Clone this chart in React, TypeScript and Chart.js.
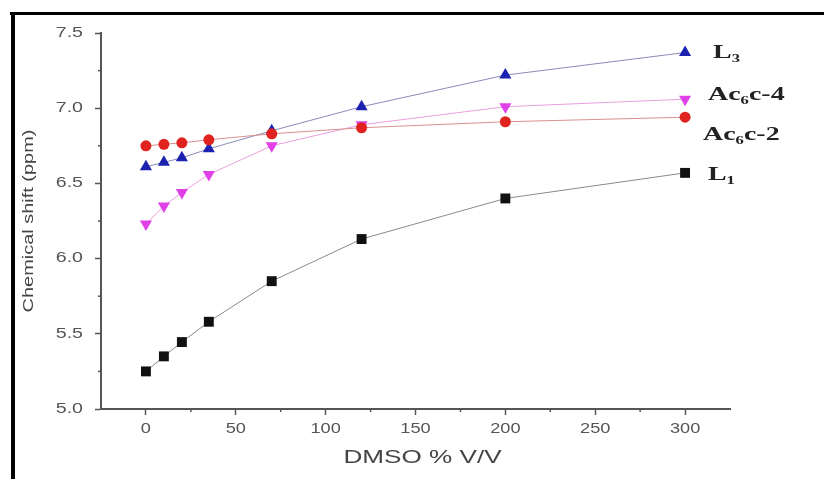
import React, { useEffect, useRef } from 'react';
import { Chart, registerables } from 'chart.js';

Chart.register(...registerables);

const dmso = [0, 10, 20, 35, 70, 120, 200, 300];
const l1 = [5.25, 5.35, 5.445, 5.58, 5.85, 6.13, 6.4, 6.57];
const ac6c2 = [6.75, 6.76, 6.77, 6.79, 6.83, 6.87, 6.91, 6.94];
const l3 = [6.61, 6.64, 6.67, 6.73, 6.85, 7.01, 7.22, 7.37];
const ac6c4 = [6.23, 6.35, 6.44, 6.56, 6.75, 6.89, 7.01, 7.06];
const seriesLabels = ['L₁', 'Ac₆c-2', 'L₃', 'Ac₆c-4'];
const xTicks = [0, 50, 100, 150, 200, 250, 300];
const xMinorTicks = [25, 75, 125, 175, 225, 275];
const yTicks = [5.0, 5.5, 6.0, 6.5, 7.0, 7.5];
const yMinorTicks = [5.25, 5.75, 6.25, 6.75, 7.25];
const xTitle = 'DMSO % V/V';
const yTitle = 'Chemical shift (ppm)';

const sans = "'Liberation Sans', Arial, sans-serif";
const serif = "'Liberation Serif', 'DejaVu Serif', serif";

const labelOffsets = [
  { dx: 23, dy: 1 },
  { dx: 18, dy: 17 },
  { dx: 28, dy: -1 },
  { dx: 23, dy: -5 },
];

function stretchText(ctx: any, text: string, x: number, y: number, sx: number, rot = 0) {
  ctx.save();
  ctx.translate(x, y);
  if (rot) ctx.rotate(rot);
  ctx.scale(sx, 1);
  ctx.fillText(text, 0, 0);
  ctx.restore();
}

const extrasPlugin = {
  id: 'extras',
  afterDraw(chart: any) {
    const ctx = chart.ctx;
    const xs = chart.scales.x;
    const ys = chart.scales.y;
    ctx.save();
    // frame lines of the scanned figure
    ctx.fillStyle = '#000';
    ctx.fillRect(10, 12, 814, 3);
    ctx.fillRect(11, 12, 4, 467);
    // minor ticks
    ctx.strokeStyle = '#555';
    ctx.lineWidth = 1.5;
    const yb = ys.bottom;
    xMinorTicks.forEach((v) => {
      const px = xs.getPixelForValue(v);
      ctx.beginPath();
      ctx.moveTo(px, yb);
      ctx.lineTo(px, yb + 3);
      ctx.stroke();
    });
    const xl = xs.left;
    yMinorTicks.forEach((v) => {
      const py = ys.getPixelForValue(v);
      ctx.beginPath();
      ctx.moveTo(xl, py);
      ctx.lineTo(xl - 3, py);
      ctx.stroke();
    });
    // tick labels (widened like the scanned figure)
    ctx.fillStyle = '#555';
    ctx.font = `14px ${sans}`;
    ctx.textBaseline = 'middle';
    ctx.textAlign = 'center';
    xs.ticks.forEach((t: any) => {
      stretchText(ctx, String(t.value), xs.getPixelForValue(t.value), yb + 20, 1.3);
    });
    ctx.textAlign = 'right';
    ys.ticks.forEach((t: any) => {
      stretchText(ctx, Number(t.value).toFixed(1), xl - 18, ys.getPixelForValue(t.value), 1.4);
    });
    // axis titles
    ctx.fillStyle = '#444';
    ctx.textAlign = 'center';
    ctx.font = `18px ${sans}`;
    stretchText(ctx, xTitle, (xs.left + xs.right) / 2 + 7, 458, 1.45);
    ctx.font = `15px ${sans}`;
    stretchText(ctx, yTitle, 29, (ys.top + ys.bottom) / 2, 1.33, -Math.PI / 2);
    // series labels next to the last points
    ctx.fillStyle = '#222';
    ctx.font = `bold 18px ${serif}`;
    ctx.textAlign = 'left';
    ctx.textBaseline = 'alphabetic';
    chart.data.datasets.forEach((ds: any, i: number) => {
      const last = ds.data[ds.data.length - 1];
      const px = xs.getPixelForValue(last.x);
      const py = ys.getPixelForValue(last.y);
      stretchText(ctx, seriesLabels[i], px + labelOffsets[i].dx, py + labelOffsets[i].dy + 6, 1.55);
    });
    ctx.restore();
  },
};

function pts(ys: number[]) {
  return dmso.map((x, i) => ({ x, y: ys[i] }));
}

export default function App() {
  const ref = useRef<HTMLCanvasElement | null>(null);
  useEffect(() => {
    if (!ref.current) return;
    const chart = new Chart(ref.current, {
      type: 'line',
      data: {
        datasets: [
          {
            label: seriesLabels[0],
            data: pts(l1),
            borderColor: '#8a8a8a',
            borderWidth: 1,
            pointStyle: 'rect',
            pointRadius: 7,
            pointBackgroundColor: '#111',
            pointBorderColor: '#111',
            pointBorderWidth: 0,
          },
          {
            label: seriesLabels[1],
            data: pts(ac6c2),
            borderColor: '#d99090',
            borderWidth: 1,
            pointStyle: 'circle',
            pointRadius: 5.5,
            pointBackgroundColor: '#e0231e',
            pointBorderColor: '#e0231e',
            pointBorderWidth: 0,
          },
          {
            label: seriesLabels[2],
            data: pts(l3),
            borderColor: '#8a8ab8',
            borderWidth: 1,
            pointStyle: 'triangle',
            pointRadius: 7,
            pointBackgroundColor: '#1c22b0',
            pointBorderColor: '#1c22b0',
            pointBorderWidth: 0,
          },
          {
            label: seriesLabels[3],
            data: pts(ac6c4),
            borderColor: '#eaa0e0',
            borderWidth: 1,
            pointStyle: 'triangle',
            pointRotation: 180,
            pointRadius: 7,
            pointBackgroundColor: '#e040e8',
            pointBorderColor: '#e040e8',
            pointBorderWidth: 0,
          },
        ],
      },
      options: {
        animation: false,
        responsive: false,
        maintainAspectRatio: false,
        layout: { padding: { top: 33, right: 94, left: 0, bottom: 0 } },
        plugins: { legend: { display: false }, tooltip: { enabled: false } },
        scales: {
          x: {
            type: 'linear',
            min: -25,
            max: 325,
            afterBuildTicks: (s: any) => {
              s.ticks = xTicks.map((v) => ({ value: v }));
            },
            afterFit: (s: any) => {
              s.height = 70;
            },
            grid: { drawOnChartArea: false, drawTicks: true, tickLength: 6, tickColor: '#555', tickWidth: 1.5 },
            border: { color: '#555', width: 2 },
            ticks: { display: false },
          },
          y: {
            type: 'linear',
            min: 5.0,
            max: 7.5,
            afterBuildTicks: (s: any) => {
              s.ticks = yTicks.map((v) => ({ value: v }));
            },
            afterFit: (s: any) => {
              s.width = 101;
            },
            grid: { drawOnChartArea: false, drawTicks: true, tickLength: 6, tickColor: '#555', tickWidth: 1.5 },
            border: { color: '#555', width: 2 },
            ticks: { display: false },
          },
        },
      } as any,
      plugins: [extrasPlugin],
    });
    return () => chart.destroy();
  }, []);
  return (
    <div style={{ position: 'fixed', left: 0, top: 0, width: 824, height: 479, background: '#fff' }}>
      <canvas ref={ref} width={824} height={479} style={{ display: 'block', width: 824, height: 479 }} />
    </div>
  );
}
